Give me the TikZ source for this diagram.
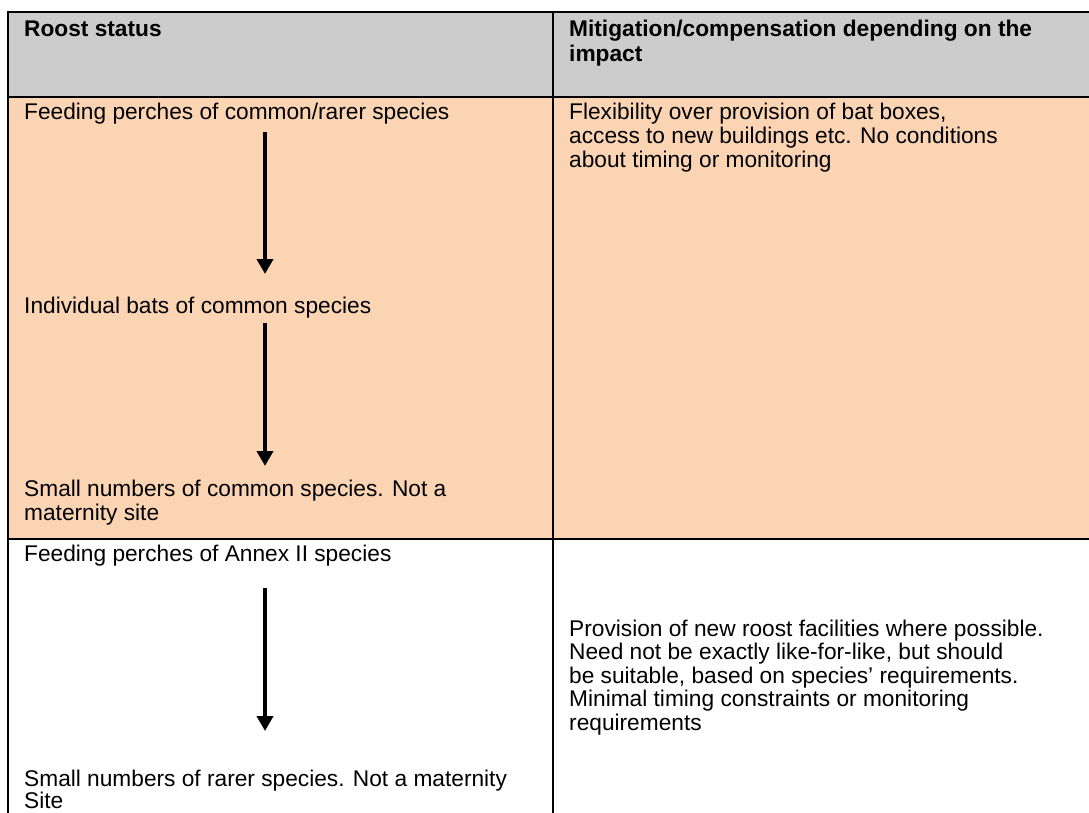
\documentclass[tikz,border=0pt]{standalone}
\usepackage{fontspec}
\setmainfont{Liberation Sans}
\usetikzlibrary{arrows.meta}
\definecolor{hdrgray}{HTML}{CCCCCC}
\definecolor{peach}{HTML}{FBD4B4}
\tikzset{
  txt/.style={anchor=base west, inner sep=0pt, font=\fontsize{22.7}{24}\selectfont},
  hdr/.style={txt, font=\fontsize{22.7}{24}\selectfont\bfseries},
  rule/.style={line width=2pt, black},
  downarrow/.style={line width=4pt, -{Triangle[width=16pt,length=15pt]}}
}
\begin{document}
\begin{tikzpicture}[x=1pt,y=-1pt]
\useasboundingbox (0,0) rectangle (1089,812);
% fills
\fill[hdrgray] (8,12) rectangle (1100,97);
\fill[peach] (8,97) rectangle (1100,539);
% rules
\draw[rule] (8,820) -- (8,12) -- (1100,12);
\draw[rule] (8,97) -- (1100,97);
\draw[rule] (8,539) -- (1100,539);
\draw[rule] (553,12) -- (553,820);
% header
\node[hdr] (h1) at (24,36) {Roost status};
\node[hdr] (h2a) at (569,36) {Mitigation/compensation depending on the};
\node[hdr] (h2b) at (569,61.5) {impact};
% row 1 left
\node[txt] (r1a) at (24,119) {Feeding perches of common/rarer species};
\node[txt] (r1b) at (24,313) {Individual bats of common species};
\node[txt] (r1c) at (24,496) {Small numbers of common species. Not a};
\node[txt] (r1d) at (24,520.5) {maternity site};
% row 1 right
\node[txt] (m1a) at (569,119) {Flexibility over provision of bat boxes,};
\node[txt] (m1b) at (569,143) {access to new buildings etc. No conditions};
\node[txt] (m1c) at (569,167) {about timing or monitoring};
% row 2 left
\node[txt] (r2a) at (24,561) {Feeding perches of Annex II species};
\node[txt] (r2b) at (24,786) {Small numbers of rarer species. Not a maternity};
\node[txt] (r2c) at (24,808.5) {Site};
% row 2 right
\node[txt] (m2a) at (569,636) {Provision of new roost facilities where possible.};
\node[txt] (m2b) at (569,659.5) {Need not be exactly like-for-like, but should};
\node[txt] (m2c) at (569,683) {be suitable, based on species’ requirements.};
\node[txt] (m2d) at (569,706.5) {Minimal timing constraints or monitoring};
\node[txt] (m2e) at (569,730) {requirements};
% arrows
\coordinate (a1s) at (265,132);
\coordinate (a1e) at (265,274);
\coordinate (a2s) at (265,323);
\coordinate (a2e) at (265,466);
\coordinate (a3s) at (265,588);
\coordinate (a3e) at (265,731);
\draw[downarrow] (a1s) -- (a1e);
\draw[downarrow] (a2s) -- (a2e);
\draw[downarrow] (a3s) -- (a3e);
\end{tikzpicture}
\end{document}
